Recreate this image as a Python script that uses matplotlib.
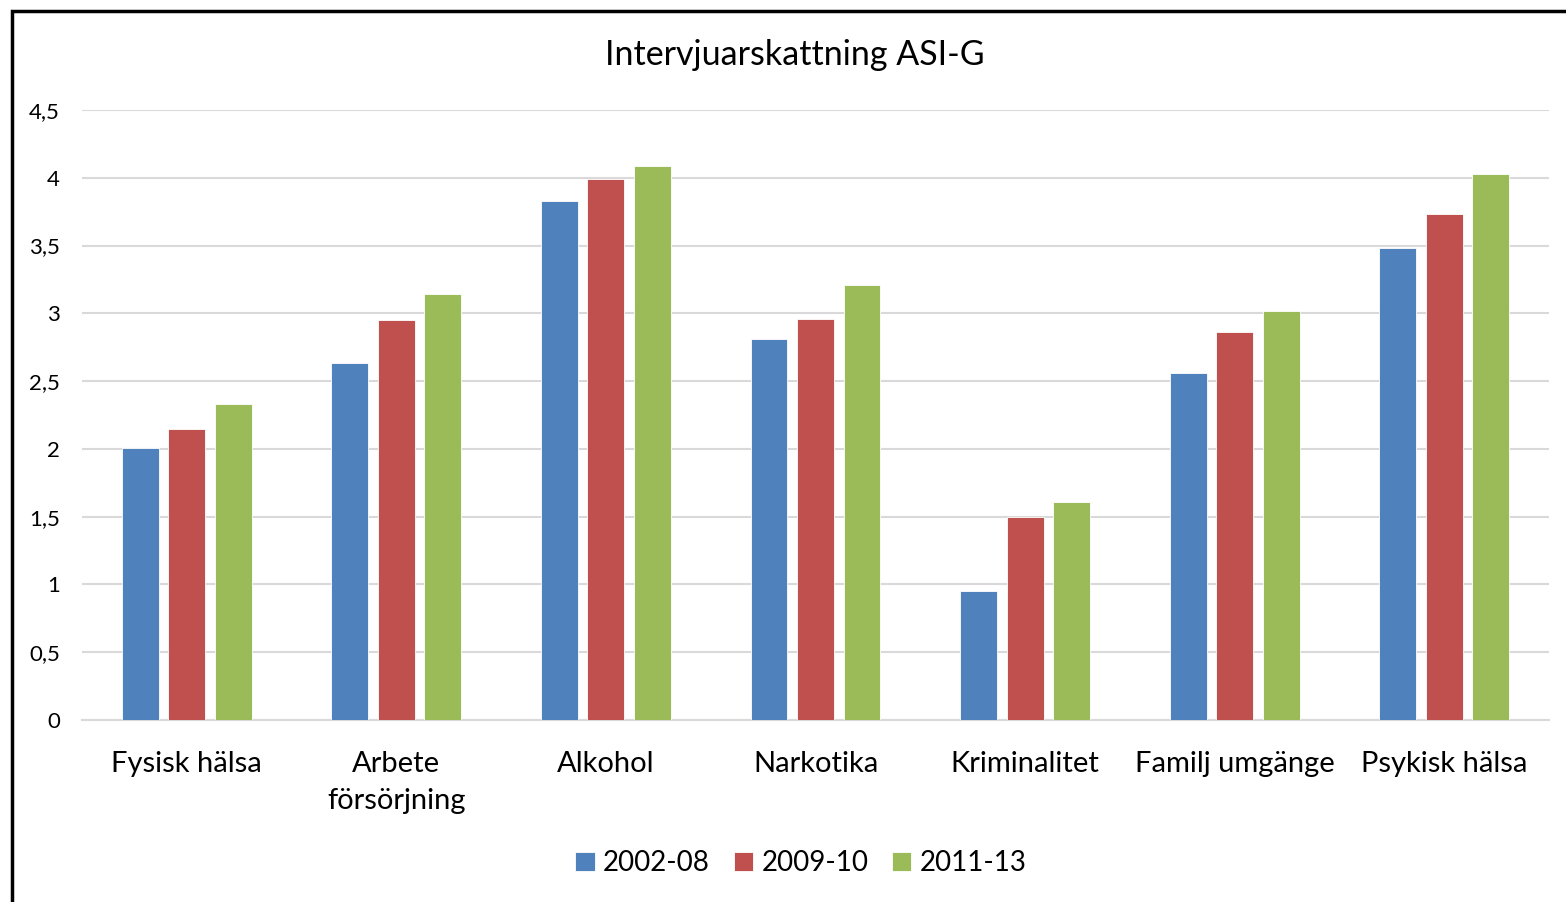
import numpy as np
import matplotlib.pyplot as plt
from matplotlib.patches import Rectangle

categories = ["Fysisk hälsa", "Arbete\nförsörjning", "Alkohol", "Narkotika",
              "Kriminalitet", "Familj umgänge", "Psykisk hälsa"]
series = ["2002-08", "2009-10", "2011-13"]
v_2002_08 = [2.01, 2.63, 3.83, 2.81, 0.95, 2.56, 3.48]
v_2009_10 = [2.15, 2.95, 3.99, 2.96, 1.50, 2.86, 3.73]
v_2011_13 = [2.33, 3.14, 4.09, 3.21, 1.61, 3.02, 4.03]
colors = ["#4F81BD", "#C0504D", "#9BBB59"]

plt.rcParams['font.family'] = ['Lato', 'DejaVu Sans']

fig = plt.figure(figsize=(15.66, 9.02), dpi=100)
ax = fig.add_axes([82 / 1566, 1 - 720 / 902, (1549 - 82) / 1566, (720 - 110) / 902])

x = np.arange(len(categories))
w = 0.176
step = 0.222
for i, (vals, lab, c) in enumerate(zip([v_2002_08, v_2009_10, v_2011_13], series, colors)):
    ax.bar(x + (i - 1) * step, vals, width=w, color=c, label=lab,
           edgecolor="white", linewidth=0.6, zorder=3)

ax.set_xlim(-0.5, len(categories) - 0.5)
ax.set_ylim(0, 4.5)
yt = np.arange(0, 4.51, 0.5)
ax.set_yticks(yt)
ax.set_yticklabels([f"{t:g}".replace(".", ",") for t in yt], fontsize=16)
ax.set_xticks(x)
ax.set_xticklabels(categories, fontsize=21, linespacing=1.55)
ax.tick_params(axis="both", length=0)
ax.tick_params(axis="y", pad=16)
ax.tick_params(axis="x", pad=22)
ax.grid(axis="y", color="#D9D9D9", linewidth=1.5, zorder=0)
for s in ["top", "right", "left"]:
    ax.spines[s].set_visible(False)
ax.spines["bottom"].set_color("#D9D9D9")
ax.spines["bottom"].set_linewidth(1.5)

fig.text(795 / 1566, 1 - 55 / 902, "Intervjuarskattning ASI-G", ha="center", va="center", fontsize=24.5)

fig.legend(loc="center", bbox_to_anchor=(801 / 1566, 1 - 863 / 902), ncol=3, frameon=False,
           fontsize=20, handlelength=0.7, handleheight=0.7, handletextpad=0.3, columnspacing=0.85)

fig.patches.append(Rectangle((12 / 1566, -0.1), 1.2, 1 - 11 / 902 + 0.1, transform=fig.transFigure,
                             fill=False, edgecolor="black", linewidth=2.5, zorder=10))

fig.savefig("out.png", dpi=100)
